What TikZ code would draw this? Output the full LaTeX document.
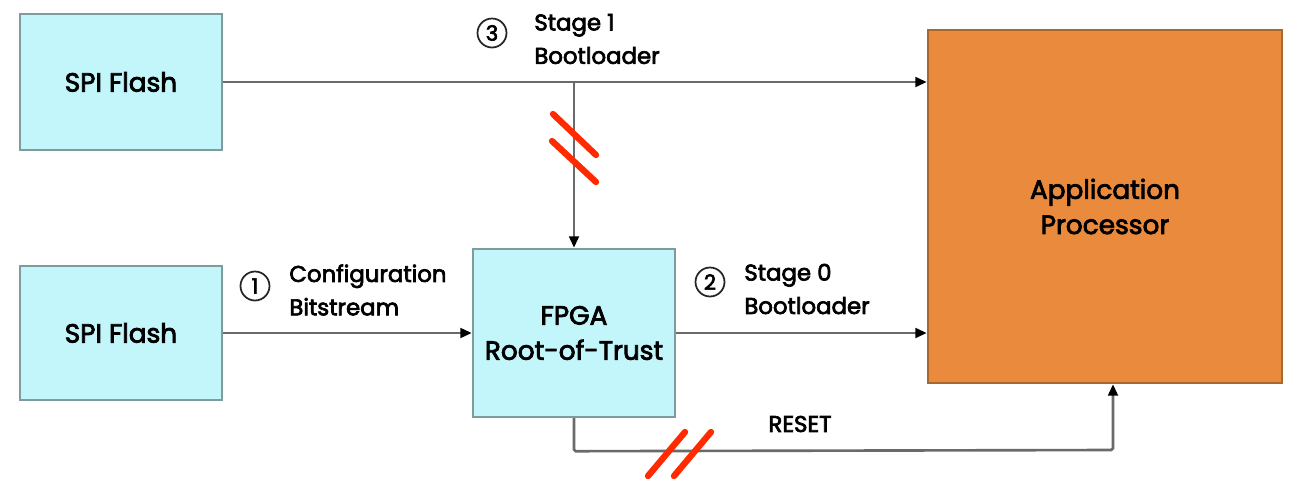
\documentclass[tikz,border=0pt]{standalone}
\usepackage{fontspec}
\setmainfont{Poppins}[FakeBold=3]
\usetikzlibrary{arrows.meta}

\definecolor{flashfill}{HTML}{C2F6FA}
\definecolor{flashedge}{HTML}{7E9C9E}
\definecolor{apfill}{HTML}{EA8A3C}
\definecolor{apedge}{HTML}{A8672E}
\definecolor{wire}{HTML}{6A6A6A}
\definecolor{cut}{HTML}{FF2A00}

\begin{document}
\begin{tikzpicture}[x=0.02cm, y=-0.02cm, >={Triangle[length=6.5pt,width=5.5pt,color=black]},
	block/.style={draw=flashedge, fill=flashfill, line width=1.4pt, minimum width=4.04cm, align=center, font=\fontsize{15}{20}\selectfont},
	cpu/.style={draw=apedge, fill=apfill, line width=1.4pt, minimum width=7.08cm, minimum height=7.06cm, align=center, font=\fontsize{15}{20}\selectfont},
	link/.style={draw=wire, line width=1.5pt},
	numbered/.style={draw=black!85, circle, line width=1pt, minimum size=0.58cm, inner sep=0pt, font=\fontsize{12}{12}\selectfont},
	tag/.style={align=left, anchor=west, inner sep=0pt, font=\fontsize{13}{19}\selectfont},
	slash/.style={draw=cut, line width=3.6pt, line cap=round}]

	% page frame
	\useasboundingbox (0,0) rectangle (1292,481);

	% blocks
	\node[block, minimum height=2.72cm] (flashA) at (121,82) {SPI Flash};
	\node[block, minimum height=2.68cm] (flashB) at (121,333) {SPI Flash};
	\node[block, minimum height=3.36cm] (fpga) at (574,333) {FPGA\\Root-of-Trust};
	\node[cpu] (ap) at (1105,206.5) {Application\\Processor};

	% branch points
	\coordinate (tap) at (fpga.north |- flashA.east);
	\coordinate (rstA) at ([yshift=-0.66cm]fpga.south);
	\coordinate (rstB) at (1113,450);

	% stage 1 path, blocked towards the FPGA
	\draw[link, ->] (flashA.east) -- (flashA.east -| ap.west);
	\draw[link, ->] (tap) -- (fpga.north);
	\draw[slash] (553,114) -- (596,155);
	\draw[slash] (552,141) -- (596,182);

	% configuration and stage 0
	\draw[link, ->] (flashB.east) -- (fpga.west);
	\draw[link, ->] (fpga.east) -- (fpga.east -| ap.west);

	% reset line
	\draw[link, ->, rounded corners=1pt] (fpga.south) -- (rstA) -- (rstB) -- (rstB |- ap.south);
	\draw[slash] (648,476) -- (685,432);
	\draw[slash] (674,476) -- (711,432);

	% labels
	\node[numbered] (n3) at (492,33) {3};
	\node[tag] (t3) at (534,39) {Stage 1\\Bootloader};
	\node[numbered] (n1) at (255,286) {1};
	\node[tag] (t1) at (289,290) {Configuration\\Bitstream};
	\node[numbered] (n2) at (710,282) {2};
	\node[tag] (t2) at (744,289) {Stage 0\\Bootloader};
	\node[font=\fontsize{13}{13}\selectfont] (rst) at (800,424) {RESET};
\end{tikzpicture}
\end{document}
